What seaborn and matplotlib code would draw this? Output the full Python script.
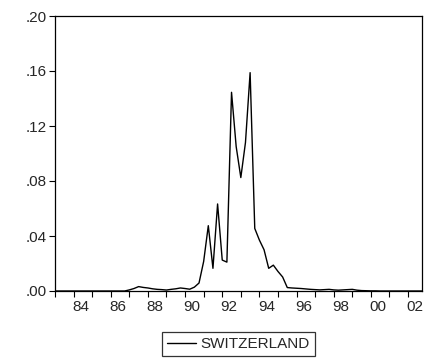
import numpy as np
import pandas as pd
import matplotlib
matplotlib.use("Agg")
import matplotlib.pyplot as plt
import seaborn as sns
from matplotlib.lines import Line2D

# Quarterly series 1983Q1 - 2002Q4
start_year = 1983
switzerland = [
    0.0, 0.0, 0.0, 0.0, 0.0, 0.0, 0.0, 0.0,            # 1983-1984
    0.0, 0.0, 0.0, 0.0, 0.0, 0.0, 0.0, 0.0,            # 1985-1986
    0.0008, 0.0018, 0.0032, 0.0026,                    # 1987
    0.0022, 0.0016, 0.0012, 0.0010,                    # 1988
    0.0007, 0.0012, 0.0016, 0.0022,                    # 1989
    0.0018, 0.0013, 0.0028, 0.0058,                    # 1990
    0.0215, 0.0475, 0.0165, 0.0633,                    # 1991
    0.0225, 0.0210, 0.1445, 0.1050,                    # 1992
    0.0825, 0.1080, 0.1588, 0.0455,                    # 1993
    0.0370, 0.0300, 0.0165, 0.0188,                    # 1994
    0.0142, 0.0102, 0.0025, 0.0022,                    # 1995
    0.0020, 0.0018, 0.0015, 0.0012,                    # 1996
    0.0010, 0.0008, 0.0010, 0.0012,                    # 1997
    0.0008, 0.0006, 0.0008, 0.0010,                    # 1998
    0.0012, 0.0006, 0.0003, 0.0002,                    # 1999
    0.0001, 0.0001, 0.0, 0.0,                          # 2000
    0.0, 0.0, 0.0, 0.0,                                # 2001
    0.0, 0.0, 0.0, 0.0,                                # 2002
]
series_name = "SWITZERLAND"
y_ticks = [0.00, 0.04, 0.08, 0.12, 0.16, 0.20]
y_tick_labels = [".00", ".04", ".08", ".12", ".16", ".20"]
year_ticks = list(range(1983, 2003))
label_years = list(range(1984, 2003, 2))
x_tick_labels = ["84", "86", "88", "90", "92", "94", "96", "98", "00", "02"]

t = [start_year + i / 4 for i in range(len(switzerland))]
df = pd.DataFrame({"t": t, "value": switzerland, "series": series_name})

sns.set_style("ticks")
plt.rcParams["font.family"] = ["Liberation Sans", "DejaVu Sans"]
FS = 11

fig = plt.figure(figsize=(4.25, 3.58), dpi=100)
ax = fig.add_axes([55 / 425, 1 - 291 / 358, 367 / 425, 275 / 358])

sns.lineplot(data=df, x="t", y="value", hue="series", palette=["black"],
             linewidth=1.0, ax=ax, legend=False)

ax.set_xlim(t[0], t[-1])
ax.set_ylim(0, 0.20)
ax.set_yticks(y_ticks)
ax.set_yticklabels(y_tick_labels, fontsize=FS)

# year boundary ticks (no labels), labels centred within years
ax.set_xticks(year_ticks)
ax.set_xticklabels([""] * len(year_ticks))
ax.set_xticks([y + 0.375 for y in label_years], minor=True)
ax.set_xticklabels(x_tick_labels, minor=True, fontsize=FS)
ax.tick_params(axis="x", which="major", direction="out", length=4.2, width=0.8, color="black")
ax.tick_params(axis="x", which="minor", length=0, pad=6.5)
ax.tick_params(axis="y", direction="out", length=4, width=0.8, color="black", pad=2)

for s in ax.spines.values():
    s.set_visible(True)
    s.set_color("black")
    s.set_linewidth(0.9)

ax.set_xlabel("")
ax.set_ylabel("")

handle = Line2D([0], [0], color="black", linewidth=1.0)
leg = fig.legend([handle], [series_name], loc="center",
                 bbox_to_anchor=(238.5 / 425, 1 - 344 / 358),
                 frameon=True, fancybox=False, fontsize=FS,
                 handlelength=1.85, handletextpad=0.3, borderpad=0.35,
                 borderaxespad=0)
leg.get_frame().set_edgecolor("black")
leg.get_frame().set_linewidth(0.9)

fig.savefig("out.png", dpi=100)
